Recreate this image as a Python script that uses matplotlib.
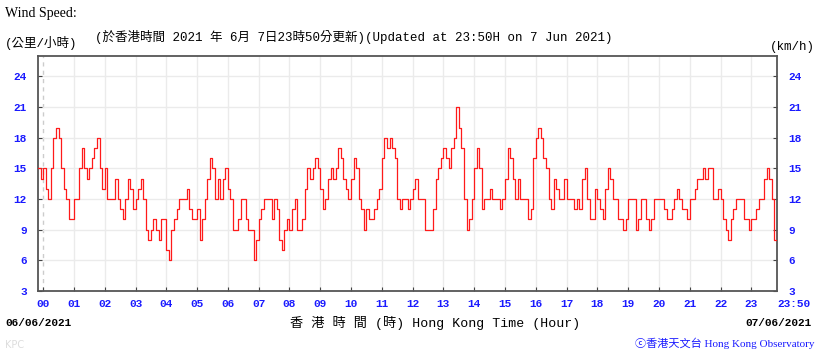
import numpy as np
import matplotlib
matplotlib.use('Agg')
import matplotlib.pyplot as plt

# wind speed (km/h), 5-minute steps from 23:50 on 6 Jun to 23:50 on 7 Jun
pre = [15, 14]
h00 = [15, 13, 12, 15, 18, 19, 18, 15, 13, 12, 10, 10]
h01 = [12, 12, 15, 17, 15, 14, 15, 16, 17, 18, 15, 13]
h02 = [15, 12, 12, 12, 14, 12, 11, 10, 12, 14, 13, 11]
h03 = [12, 13, 14, 12, 9, 8, 9, 10, 9, 8, 10, 10]
h04 = [7, 6, 9, 10, 11, 12, 12, 12, 13, 11, 10, 10]
h05 = [11, 8, 10, 12, 14, 16, 15, 12, 14, 12, 14, 15]
h06 = [13, 12, 9, 9, 10, 12, 12, 10, 9, 9, 6, 8]
h07 = [10, 11, 12, 12, 12, 10, 12, 11, 8, 7, 9, 10]
h08 = [9, 11, 12, 9, 9, 10, 13, 15, 14, 15, 16, 15]
h09 = [13, 11, 12, 14, 15, 14, 15, 17, 16, 14, 13, 12]
h10 = [14, 16, 15, 12, 11, 9, 11, 10, 10, 11, 12, 13]
h11 = [16, 18, 17, 18, 17, 16, 12, 11, 12, 12, 11, 12]
h12 = [13, 14, 12, 12, 12, 9, 9, 9, 11, 14, 15, 16]
h13 = [17, 16, 15, 17, 18, 21, 19, 17, 12, 9, 10, 12]
h14 = [15, 17, 15, 11, 12, 12, 13, 12, 12, 12, 11, 12]
h15 = [14, 17, 16, 14, 12, 14, 12, 12, 12, 10, 11, 16]
h16 = [18, 19, 18, 16, 15, 12, 11, 14, 13, 12, 12, 14]
h17 = [12, 12, 12, 11, 12, 11, 14, 15, 12, 10, 10, 13]
h18 = [12, 11, 10, 13, 15, 14, 12, 12, 10, 10, 9, 10]
h19 = [12, 12, 12, 9, 10, 12, 12, 10, 9, 10, 12, 12]
h20 = [12, 12, 11, 10, 10, 11, 12, 13, 12, 11, 11, 10]
h21 = [12, 12, 13, 14, 14, 15, 14, 15, 15, 12, 12, 13]
h22 = [12, 10, 9, 8, 10, 11, 12, 12, 12, 10, 10, 9]
h23 = [10, 10, 11, 12, 12, 14, 15, 14, 12, 8, 9]

speed = (pre + h00 + h01 + h02 + h03 + h04 + h05 + h06 + h07 + h08 + h09 + h10 + h11
         + h12 + h13 + h14 + h15 + h16 + h17 + h18 + h19 + h20 + h21 + h22 + h23)
hours = -10 / 60 + np.arange(len(speed)) * 5 / 60

hour_labels = ['%02d' % h for h in range(24)]
y_ticks = [3, 6, 9, 12, 15, 18, 21, 24]

blue = '#1a1aff'
mono = ['Liberation Mono', 'Noto Sans CJK TC']

fig = plt.figure(figsize=(8.2, 3.58), dpi=100)
ax = fig.add_axes([38 / 820, 1 - 291 / 358, 739 / 820, 235 / 358])

ax.plot(hours, speed, color='#ff1a1a', lw=0.9, drawstyle='steps-post', zorder=3)

ax.set_xlim(-10 / 60, 23 + 50 / 60)
ax.set_ylim(3, 26)

ax.set_xticks(range(24))
ax.set_xticklabels(hour_labels)
ax.set_yticks(y_ticks)
ax.set_yticklabels([str(v) for v in y_ticks])
ax.grid(True, color='#ebebeb', lw=1)
# the 00 line is dashed
ax.xaxis.get_gridlines()[0].set_linestyle((0, (3, 3)))
ax.xaxis.get_gridlines()[0].set_color('#cccccc')

ax.tick_params(axis='both', direction='in', length=3, color='#444444',
               labelcolor=blue, labelsize=8)
ax.tick_params(axis='y', right=True, labelright=True, pad=8)
ax.tick_params(axis='x', pad=6)
for lab in ax.get_xticklabels() + ax.yaxis.get_majorticklabels():
    lab.set_fontfamily('Liberation Mono')
    lab.set_fontweight('bold')
for lab in ax.yaxis.get_ticklabels(which='major'):
    lab.set_fontfamily('Liberation Mono')
    lab.set_fontweight('bold')
for s in ax.spines.values():
    s.set_color('#555555')
    s.set_linewidth(1.3)

# 23:50 label at the right end
ax.annotate('23:50', xy=(23 + 50 / 60, 3), xycoords='data', xytext=(12, -6),
            textcoords='offset points', ha='center', va='top', color=blue,
            fontsize=8, fontweight='bold', fontfamily='Liberation Mono')

# titles and footer
fig.text(5 / 820, 1 - 13 / 358, 'Wind Speed:', fontsize=10,
         fontfamily='Liberation Serif', va='center')
fig.text(5 / 820, 1 - 43 / 358, '(公里/小時)', fontsize=9, family=mono, va='center')
fig.text(95 / 820, 1 - 37 / 358,
         '(於香港時間 2021 年 6月 7日23時50分更新)(Updated at 23:50H on 7 Jun 2021)',
         fontsize=9, family=mono, va='center')
fig.text(815 / 820, 1 - 47 / 358, '(km/h)', fontsize=9, family=mono,
         va='center', ha='right')

fig.text(5 / 820, 1 - 323 / 358, '06/06/2021', fontsize=8, fontweight='bold',
         fontfamily='Liberation Mono', va='center')
fig.text(812 / 820, 1 - 323 / 358, '07/06/2021', fontsize=8, fontweight='bold',
         fontfamily='Liberation Mono', va='center', ha='right')
fig.text(435 / 820, 1 - 323 / 358, '香 港 時 間 (時) Hong Kong Time (Hour)',
         fontsize=9.5, family=mono, va='center', ha='center')
fig.text(815 / 820, 1 - 343 / 358, 'ⓒ香港天文台 Hong Kong Observatory', fontsize=8,
         family=['Liberation Serif', 'Noto Sans CJK TC'], color=blue,
         va='center', ha='right')
fig.text(5 / 820, 1 - 345 / 358, 'KPC', fontsize=7, color='#dddddd', va='center')

fig.savefig('out.png', dpi=100)
